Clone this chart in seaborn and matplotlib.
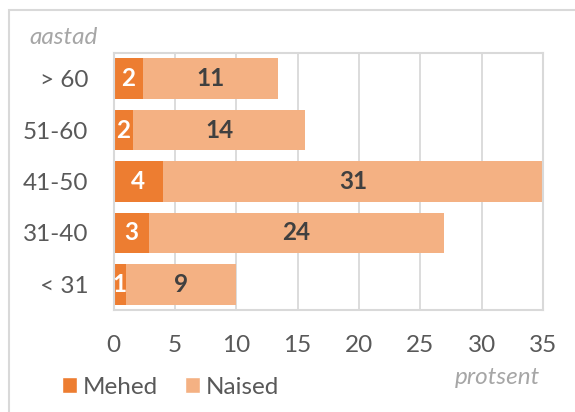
import pandas as pd
import matplotlib
matplotlib.use('Agg')
import matplotlib.pyplot as plt
import seaborn as sns
from matplotlib.patches import Patch, Rectangle

# age groups (top to bottom) and shares in percent
age_groups = ['> 60', '51-60', '41-50', '31-40', '< 31']
mehed = [2.4, 1.6, 4.0, 2.9, 1.0]
naised = [11.0, 14.0, 31.0, 24.0, 9.0]
x_ticks = [0, 5, 10, 15, 20, 25, 30, 35]

c_mehed = '#ED7D31'
c_naised = '#F4B183'
grey_line = '#D9D9D9'
txt = '#595959'
FS = 17.5

sns.set_style('white')
plt.rcParams['font.family'] = ['Lato', 'DejaVu Sans']
plt.rcParams['font.size'] = FS

df = pd.DataFrame({'vanus': age_groups, 'Mehed': mehed, 'Naised': naised})
df['kokku'] = df['Mehed'] + df['Naised']

W, H = 575, 412
fig = plt.figure(figsize=(W / 100, H / 100), dpi=100)
ax = fig.add_axes([113.5 / W, 1 - 310 / H, (543 - 113.5) / W, (310 - 53) / H])

sns.barplot(data=df, x='kokku', y='vanus', color=c_naised, saturation=1,
            width=0.79, orient='h', ax=ax, linewidth=0)
sns.barplot(data=df, x='Mehed', y='vanus', color=c_mehed, saturation=1,
            width=0.79, orient='h', ax=ax, linewidth=0)

# labels: women centred in their own segment, men in theirs
for i, row in df.iterrows():
    ax.text(row['Mehed'] + row['Naised'] / 2, i, f"{round(row['Naised'])}",
            ha='center', va='center', color='#404040', fontweight='bold', fontsize=FS)
    ax.text(row['Mehed'] / 2, i, f"{round(row['Mehed'])}",
            ha='center', va='center', color='white', fontweight='bold', fontsize=FS)

ax.set_xlim(0, 35)
ax.set_xticks(x_ticks)
ax.set_xlabel('')
ax.set_ylabel('')
ax.grid(axis='x', color=grey_line, linewidth=1.3)
ax.set_axisbelow(True)
for s in ax.spines.values():
    s.set_color(grey_line)
    s.set_linewidth(1.5)
ax.tick_params(axis='x', length=0, pad=18, labelcolor=txt, labelsize=FS)
ax.tick_params(axis='y', length=0, pad=18, labelcolor=txt, labelsize=FS)

# axis captions
fig.text(29 / W, 1 - 37 / H, 'aastad', ha='left', va='center', style='italic',
         color='#A6A6A6', fontsize=FS)
fig.text(540 / W, 1 - 377 / H, 'protsent', ha='right', va='center', style='italic',
         color='#A6A6A6', fontsize=FS)

# legend
handles = [Patch(facecolor=c_mehed, label='Mehed'),
           Patch(facecolor=c_naised, label='Naised')]
fig.legend(handles=handles, loc='center left', bbox_to_anchor=(62 / W, 1 - 387 / H),
           ncol=2, frameon=False, borderpad=0, borderaxespad=0,
           handlelength=0.62, handleheight=0.62,
           handletextpad=0.25, columnspacing=1.1, labelcolor=txt, fontsize=FS)

# outer chart frame, cut off at right and bottom
fig.patches.append(Rectangle((9 / W, -0.05), 1.1, 1 - 10 / H + 0.05,
                             transform=fig.transFigure, fill=False,
                             edgecolor=grey_line, linewidth=1.5))

plt.savefig('out.png', dpi=100)
plt.close()
